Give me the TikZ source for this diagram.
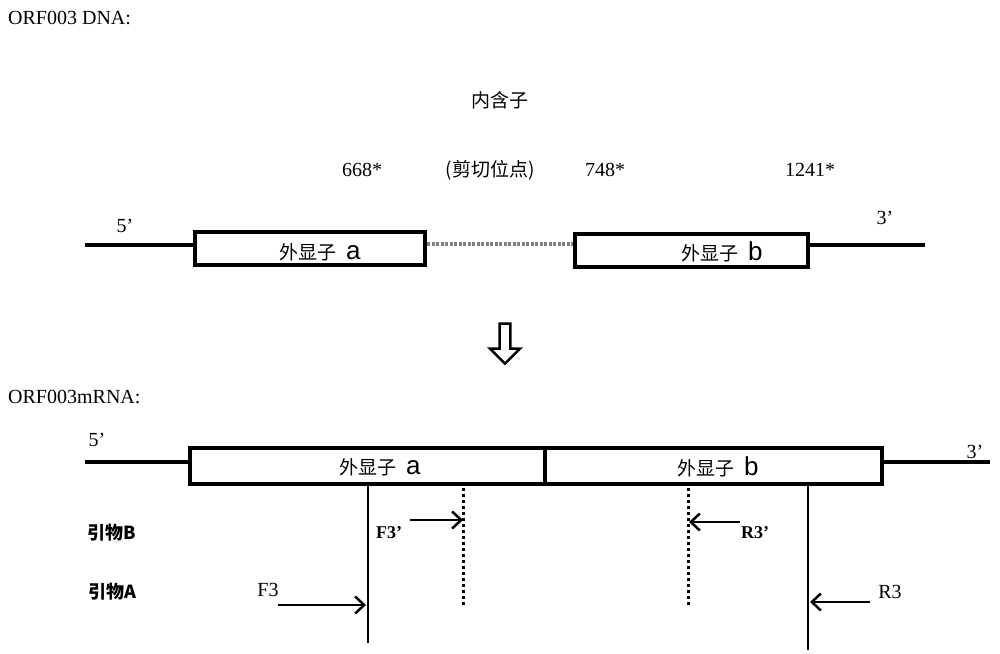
\documentclass[tikz,border=0pt]{standalone}
\usepackage{fontspec}
\setmainfont{Liberation Serif}
\setsansfont{Liberation Sans}
\newfontfamily\cjk{Noto Sans CJK SC}
\usetikzlibrary{arrows.meta,shapes.arrows}
\begin{document}
\begin{tikzpicture}[x=1pt,y=-1pt,
  txt/.style={inner sep=0pt,font=\fontsize{20}{22}\selectfont},
  cn/.style={inner sep=0pt,font=\cjk\fontsize{19}{21}\selectfont},
  exon/.style={draw,line width=4pt,minimum height=33pt,inner sep=0pt},
  strand/.style={line width=4pt},
  vl/.style={line width=1.3pt},
  dl/.style={line width=3pt,dash pattern=on 3pt off 3pt},
  prim/.style={line width=2.5pt,-{Straight Barb[length=9pt,width=17pt,line width=2.5pt]}}]
\useasboundingbox (0,0) rectangle (1000,653);
\node[txt,anchor=west] (t1) at (8,18) {ORF003 DNA:};
\node[cn] (intron) at (500,100) {内含子};
\node[txt] (p668) at (362,170) {668*};
\node[cn] (site) at (490,170) {(剪切位点)};
\node[txt] (p748) at (605,170) {748*};
\node[txt] (p1241) at (810,170) {1241*};
\node[txt] (d5) at (125,226) {5'};
\node[txt] (d3) at (885,218) {3'};
\node[exon,minimum width=230pt] (ea) at (310,248.5) {};
\node[exon,minimum width=233pt] (eb) at (691.5,250) {};
\node[cn] at (320,252) {外显子\enspace\textsf{\fontsize{26}{26}\selectfont a}};
\node[cn] at (722,252) {外显子\enspace\textsf{\fontsize{26}{26}\selectfont b}};
\coordinate (dl) at (85,245); \coordinate (dr) at (925,245);
\draw[strand] (dl) -- (ea.west|-dl);
\draw[strand] (eb.east|-dr) -- (dr);
\draw[line width=4pt,dash pattern=on 3pt off 1.5pt,gray] (ea.east|-0,244) -- (eb.west|-0,244);
\node[draw,line width=2.5pt,single arrow,shape border rotate=270,minimum width=30pt,single arrow head extend=6pt,minimum height=40pt,inner sep=2pt] (arr) at (505,341) {};
\node[txt,anchor=west] (t2) at (8,397) {ORF003mRNA:};
\node[txt] (m5) at (97,440) {5'};
\node[txt] (m3) at (975,452) {3'};
\node[exon,minimum width=692pt,minimum height=36pt] (mr) at (536,466) {};
\draw[line width=4pt] (545,448) -- (545,484);
\node[cn] at (380,467) {外显子\enspace\textsf{\fontsize{26}{26}\selectfont a}};
\node[cn] at (718,467) {外显子\enspace\textsf{\fontsize{26}{26}\selectfont b}};
\coordinate (ml) at (85,462); \coordinate (mrr) at (990,462);
\draw[strand] (ml) -- (mr.west|-ml);
\draw[strand] (mr.east|-mrr) -- (mrr);
\coordinate (v1t) at (368,486); \coordinate (v1b) at (368,643);
\coordinate (v2t) at (463,488); \coordinate (v2b) at (463,607);
\coordinate (v3t) at (688,488); \coordinate (v3b) at (688,607);
\coordinate (v4t) at (808,486); \coordinate (v4b) at (808,650);
\draw[vl] (v1t) -- (v1b);
\draw[vl] (v4t) -- (v4b);
\draw[dl] (v2t) -- (v2b);
\draw[dl] (v3t) -- (v3b);
\node[cn,font=\cjk\bfseries\fontsize{18}{20}\selectfont] (pb) at (112,533) {引物B};
\node[cn,font=\cjk\bfseries\fontsize{18}{20}\selectfont] (pa) at (112,592) {引物A};
\coordinate (f3s) at (410,520); \coordinate (f3e) at (463,520);
\draw[prim,line width=1.6pt] (f3s) -- (f3e);
\node[txt,font=\bfseries\fontsize{18}{20}\selectfont] (lf3p) at (389,533) {F3'};
\coordinate (r3s) at (740,522); \coordinate (r3e) at (689,522);
\draw[prim,line width=1.6pt] (r3s) -- (r3e);
\node[txt,font=\bfseries\fontsize{18}{20}\selectfont] (lr3p) at (755,533) {R3'};
\coordinate (fs) at (278,605); \coordinate (fe) at (366,605);
\draw[prim] (fs) -- (fe);
\node[txt] (lf3) at (268,590) {F3};
\coordinate (rs) at (870,602); \coordinate (re) at (810,602);
\draw[prim] (rs) -- (re);
\node[txt] (lr3) at (890,592) {R3};
\end{tikzpicture}
\end{document}
